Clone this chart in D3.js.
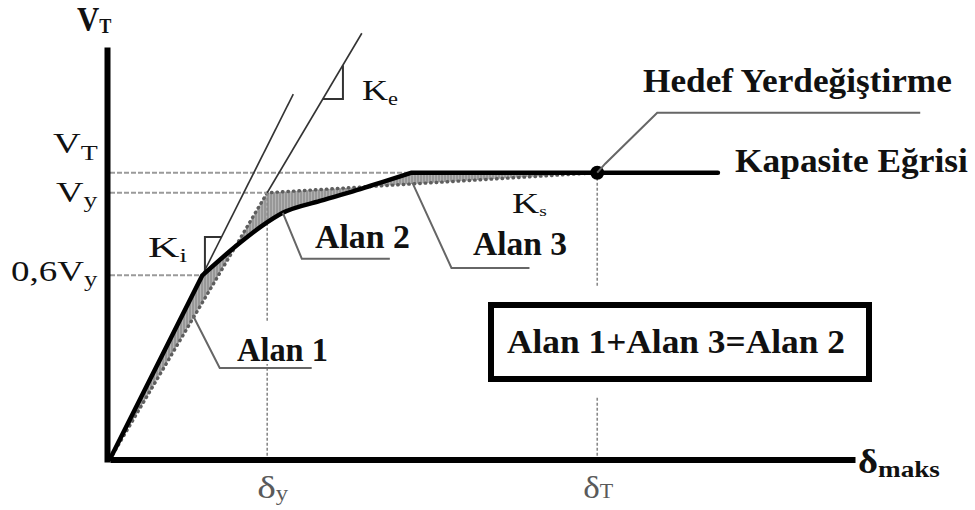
<!DOCTYPE html>
<html>
<head>
<meta charset="utf-8">
<script src="https://cdn.jsdelivr.net/npm/d3@7"></script>
<style>
  html, body { margin: 0; padding: 0; background: #fff; }
  svg { display: block; }
  text { font-family: "Liberation Serif", "Times New Roman", serif; }
</style>
</head>
<body>
<svg id="chart" width="975" height="510"></svg>
<script>
// Capacity (pushover) curve: base shear against top displacement, arbitrary units
const capDisp  = [0, 12.4, 17.4, 20.4, 23.2, 28.2, 33.6, 40.5, 65.4, 81.6];
const capShear = [0, 44.9, 52.8, 57.0, 60.2, 63.1, 66.0, 70.0, 70.0, 70.0];

// Idealised bilinear curve: origin, yield point, target point
const biDisp  = [0, 21.1, 65.4];
const biShear = [0, 65.1, 70.0];

// Stiffness lines through the origin: initial (Ki) and effective (Ke)
const kiDisp = [0, 24.6], kiShear = [0, 89.2];
const keDisp = [0, 33.8], keShear = [0, 104.1];

// Axis tick labels ("_" starts a subscript)
const yTickLabels = ["V_T", "V_y", "0,6V_y"];
const yTickValues = [70.0, 65.1, 44.9];
const xTickLabels = ["δ_y", "δ_T"];
const xTickValues = [21.1, 65.4];

// Slope triangles: two shear levels on each stiffness line
const kiTriangle = [46.2, 54.3];
const keTriangle = [88.0, 96.3];

// Leader anchors (disp, shear) for the area labels
const alan1Anchor = [11.1, 35.2];
const alan2Anchor = [23.2, 60.2];
const alan3Anchor = [40.6, 67.5];

// ---------------------------------------------------------------------------
const svg = d3.select("#chart");
const x = d3.scaleLinear().domain([0, 100]).range([110, 855]);
const y = d3.scaleLinear().domain([0, 100]).range([459, 50]);

const capPts = d3.zip(capDisp, capShear);
const biPts  = d3.zip(biDisp, biShear);
const kiSlope = kiShear[1] / kiDisp[1];
const keSlope = keShear[1] / keDisp[1];
const dT = biDisp[2], VT = biShear[2], dy = biDisp[1], Vy = biShear[1];
const plateauStart = capShear.indexOf(VT);

const lineXY = d3.line().x(d => x(d[0])).y(d => y(d[1]));
const smooth = d3.line().x(d => x(d[0])).y(d => y(d[1])).curve(d3.curveMonotoneX);

// Capacity curve path: straight elastic branch, smooth softening branch, flat plateau
function capacityPath(pts) {
  const elastic = lineXY(pts.slice(0, 2));
  const soft = smooth(pts.slice(1, plateauStart + 1)).replace(/^M/, "L");
  const rest = pts.slice(plateauStart + 1).map(d => `L${x(d[0])},${y(d[1])}`).join("");
  return elastic + soft + rest;
}

// hatch pattern for the equal-area regions
const defs = svg.append("defs");
const pat = defs.append("pattern").attr("id", "hatch")
  .attr("width", 3).attr("height", 3).attr("patternUnits", "userSpaceOnUse");
pat.append("rect").attr("width", 3).attr("height", 3).attr("fill", "#b3b3b3");
pat.append("line").attr("x1", 1).attr("y1", 0).attr("x2", 1).attr("y2", 3)
  .attr("stroke", "#7c7c7c").attr("stroke-width", 1);

// Areas between the capacity curve and the bilinear idealisation (Alan 1, 2, 3)
const back = biPts.slice().reverse().map(d => `L${x(d[0])},${y(d[1])}`).join("");
svg.append("path")
  .attr("d", capacityPath(capPts.filter(d => d[0] <= dT)) + back + "Z")
  .attr("fill", "url(#hatch)").attr("stroke", "none");

// bilinear curve drawn as a dotted outline
svg.append("path").attr("d", lineXY(biPts))
  .attr("fill", "none").attr("stroke", "#5e5e5e").attr("stroke-width", 3.4)
  .attr("stroke-dasharray", "0.5,5").attr("stroke-linecap", "round");

// horizontal reference levels
const levelEnds = [
  capDisp[plateauStart],           // V_T up to start of the plateau
  dy,                              // V_y up to the yield point
  yTickValues[2] / kiSlope         // 0,6V_y up to the initial stiffness line
];
yTickValues.forEach((v, i) => {
  svg.append("line")
    .attr("x1", x(0)).attr("x2", x(levelEnds[i]))
    .attr("y1", y(v)).attr("y2", y(v))
    .attr("stroke", "#9a9a9a").attr("stroke-width", 2)
    .attr("stroke-dasharray", "5,2");
});

// vertical reference lines at δy and δT
const vTops = [Vy, VT];
xTickValues.forEach((v, i) => {
  svg.append("line")
    .attr("x1", x(v)).attr("x2", x(v))
    .attr("y1", y(vTops[i])).attr("y2", y(0))
    .attr("stroke", "#8a8a8a").attr("stroke-width", 1.6)
    .attr("stroke-dasharray", "3,2");
});

// stiffness lines
svg.append("path").attr("d", lineXY(d3.zip(kiDisp, kiShear)))
  .attr("fill", "none").attr("stroke", "#333").attr("stroke-width", 1.6);
svg.append("path").attr("d", lineXY([[dy, Vy], [keDisp[1], keShear[1]]]))
  .attr("fill", "none").attr("stroke", "#333").attr("stroke-width", 1.6);

// slope triangles
function kiTri([lo, hi]) {
  const a = [lo / kiSlope, lo], b = [hi / kiSlope, hi];
  return [a, [a[0], b[1]], b];
}
function keTri([lo, hi]) {
  const a = [lo / keSlope, lo], b = [hi / keSlope, hi];
  return [a, [b[0], a[1]], b];
}
[kiTri(kiTriangle), keTri(keTriangle)].forEach(t => {
  svg.append("path").attr("d", lineXY(t))
    .attr("fill", "none").attr("stroke", "#333").attr("stroke-width", 2);
});

// capacity curve
svg.append("path").attr("d", capacityPath(capPts))
  .attr("fill", "none").attr("stroke", "#000").attr("stroke-width", 4.5)
  .attr("stroke-linejoin", "round").attr("stroke-linecap", "round");

// target displacement point
svg.append("circle").attr("cx", x(dT)).attr("cy", y(VT)).attr("r", 7).attr("fill", "#000");

// axes
const yAxis = svg.append("g").attr("transform", "translate(107,0)")
  .call(d3.axisLeft(y).tickValues([]).tickSizeOuter(0));
yAxis.select(".domain").attr("stroke", "#000").attr("stroke-width", 6)
  .attr("stroke-linecap", "square");
const xAxis = svg.append("g").attr("transform", "translate(0,459.5)")
  .call(d3.axisBottom(x).tickValues([]).tickSizeOuter(0));
xAxis.select(".domain").attr("stroke", "#000").attr("stroke-width", 6);

// ---------------------------------------------------------------------------
// text helper: the part after "_" becomes a subscript; width stretches the text
function parseSub(s) {
  const i = s.indexOf("_");
  return i < 0 ? [[s, false]] : [[s.slice(0, i), false], [s.slice(i + 1), true]];
}
function label(x0, yb, parts, o) {
  const t = svg.append("text").attr("x", x0).attr("y", yb)
    .attr("font-size", o.size)
    .attr("font-weight", o.bold ? "bold" : "normal")
    .attr("fill", o.color || "#111");
  parts.forEach(([s, sub]) => {
    const ts = t.append("tspan").text(s);
    if (sub) ts.attr("font-size", o.subSize).attr("dy", o.subDy || 0);
  });
  if (o.width) {
    const w = t.node().getBBox().width;
    const k = o.width / w;
    t.attr("transform", `translate(${x0},0) scale(${k},1) translate(${-x0},0)`);
  }
  return t;
}
function knockout(x0, y0, w, h) {
  svg.append("rect").attr("x", x0).attr("y", y0).attr("width", w).attr("height", h).attr("fill", "#fff");
}

// y tick labels, right-aligned against the axis
const yTickWidths = [45, 42, 87];
const yTickNudge  = [-20, 9, 5.5];
const ySubDy      = [7, 5, 5];
yTickLabels.forEach((s, i) => {
  label(98 - yTickWidths[i], y(yTickValues[i]) + yTickNudge[i], parseSub(s),
    { size: 29, subSize: 21, subDy: ySubDy[i], width: yTickWidths[i] });
});

// x tick labels
const xTickNudge = [-10, -14];
const xTickWidths = [31, 30];
const xSubDy = [2, 0];
xTickLabels.forEach((s, i) => {
  label(x(xTickValues[i]) + xTickNudge[i], 498, parseSub(s),
    { size: 32, subSize: 20, subDy: xSubDy[i], width: xTickWidths[i], color: "#5a5a5a" });
});

// axis titles
label(77, 30, parseSub("V_T"), { size: 34, subSize: 20, subDy: 3, bold: true, width: 35 });
label(858, 473, parseSub("δ_maks"), { size: 34, subSize: 24, subDy: 4, bold: true, width: 82 });

// stiffness labels
label(362, 100, parseSub("K_e"), { size: 29, subSize: 18, subDy: 5, width: 36 });
label(148, 257, parseSub("K_i"), { size: 29, subSize: 18, subDy: 5, width: 39 });
label(512, 213, parseSub("K_s"), { size: 29, subSize: 15, subDy: 3, width: 35 });

// equality box
knockout(478, 286, 404, 110);
svg.append("rect").attr("x", 491).attr("y", 305).attr("width", 378).attr("height", 74)
  .attr("fill", "#fff").attr("stroke", "#000").attr("stroke-width", 6);
label(507, 353, [["Alan 1+Alan 3=Alan 2", false]], { size: 34, bold: true, width: 338 });

// leader lines
function leader(anchor, offsets) {
  const ax = x(anchor[0]), ay = y(anchor[1]);
  const pts = [[ax, ay]].concat(offsets.map(([dx, dy2]) => [ax + dx, ay + dy2]));
  svg.append("path").attr("d", d3.line()(pts))
    .attr("fill", "none").attr("stroke", "#666").attr("stroke-width", 2);
}
knockout(232, 322, 100, 42);
leader(alan1Anchor, [[27, 53], [119, 53]]);
leader(alan2Anchor, [[19, 46], [107, 46]]);
leader(alan3Anchor, [[39, 85], [117, 85]]);
leader([dT, VT], [[8, -9], [60, -60], [323, -60]]);

label(237, 361, [["Alan 1", false]], { size: 33, bold: true, width: 91 });
label(315, 248, [["Alan 2", false]], { size: 33, bold: true, width: 95 });
label(473, 255, [["Alan 3", false]], { size: 33, bold: true, width: 94 });

// curve annotations
label(643, 92, [["Hedef Yerdeğiştirme", false]], { size: 33, bold: true, width: 309 });
label(735, 172, [["Kapasite Eğrisi", false]], { size: 33, bold: true, width: 233 });
</script>
</body>
</html>
